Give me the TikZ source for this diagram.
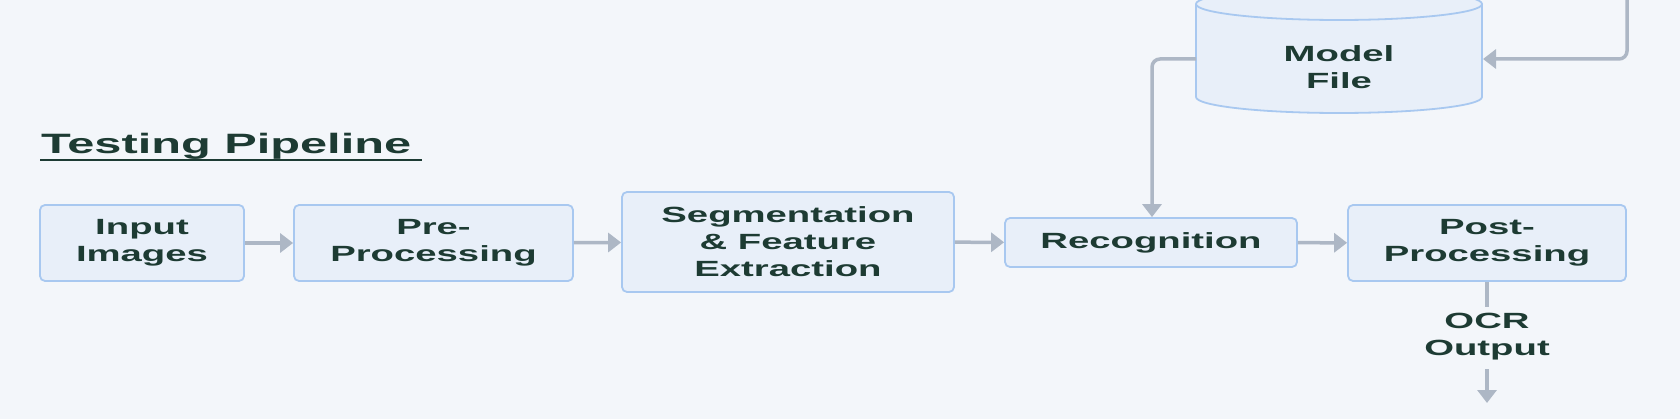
\documentclass[tikz,border=0pt]{standalone}
\usepackage{fontspec}
\newfontfamily\bfam[FakeStretch=1.74]{Liberation Sans}
\usetikzlibrary{arrows.meta}
\definecolor{bgc}{HTML}{F3F6FA}
\definecolor{boxfill}{HTML}{E8EFF9}
\definecolor{boxline}{HTML}{A8C8F0}
\definecolor{txt}{HTML}{1D3B33}
\definecolor{arr}{HTML}{ADB7C5}
\tikzset{
  stagebox/.style={draw=boxline, fill=boxfill, line width=1.8pt, rounded corners=5pt,
    inner sep=0pt, align=center, text=txt, font=\bfam\bfseries\fontsize{22}{27}\selectfont},
  plain/.style={inner sep=0pt, align=center, text=txt, font=\bfam\bfseries\fontsize{22}{27}\selectfont},
  conn/.style={draw=arr, line width=3.5pt},
  arrow/.style={conn, -{Triangle[width=19pt,length=13pt]}},
}
\begin{document}
\begin{tikzpicture}[x=1pt,y=-1pt]
\useasboundingbox (0,0) rectangle (1680,419);
\clip (0,0) rectangle (1680,419);
\fill[bgc] (0,0) rectangle (1680,419);

% title
\node[plain, anchor=base west, font=\bfam\bfseries\fontsize{28}{32}\selectfont] (title) at (41,154) {Testing Pipeline};
\draw[txt, line width=2pt] (40,160) -- (422,160);

% stages
\node[stagebox, minimum width=204pt, minimum height=76pt] (inp) at (142,243) {Input\\Images};
\node[stagebox, minimum width=279pt, minimum height=76pt] (pre) at (433.5,243) {Pre-\\Processing};
\node[stagebox, minimum width=332pt, minimum height=100pt] (seg) at (788,242) {Segmentation\\\& Feature\\Extraction};
\node[stagebox, minimum width=292pt, minimum height=49pt] (rec) at (1151,242.5) {Recognition};
\node[stagebox, minimum width=278pt, minimum height=76pt] (post) at (1487,243) {Post-\\Processing};

% model file cylinder
\path[fill=boxfill, draw=boxline, line width=1.8pt]
  (1196,4) -- (1196,97) arc[start angle=180, end angle=0, x radius=143, y radius=16] -- (1482,4);
\draw[fill=boxfill, draw=boxline, line width=1.8pt] (1339,4) ellipse [x radius=143, y radius=16];
\node[plain] (model) at (1339,67) {Model\\File};
\coordinate (mL) at (1196,59);
\coordinate (mR) at (1483,59);
\coordinate (topR) at (1627,-10);
\coordinate (bend) at (1152,59);

% connectors
\draw[arrow] (inp) -- (pre);
\draw[arrow] (pre) -- (seg);
\draw[arrow] (seg) -- (rec);
\draw[arrow] (rec) -- (post);
\draw[arrow, rounded corners=8pt] (mL) -- (bend) -- (bend |- rec.north);
\draw[arrow, rounded corners=8pt] (topR) |- (mR);

% output
\node[plain] (ocr) at (1487,337) {OCR\\Output};
\coordinate (o1) at (1487,307);
\coordinate (o2) at (1487,369);
\coordinate (o3) at (1487,403);
\draw[conn] (post.south) -- (o1);
\draw[arrow] (o2) -- (o3);
\end{tikzpicture}
\end{document}
